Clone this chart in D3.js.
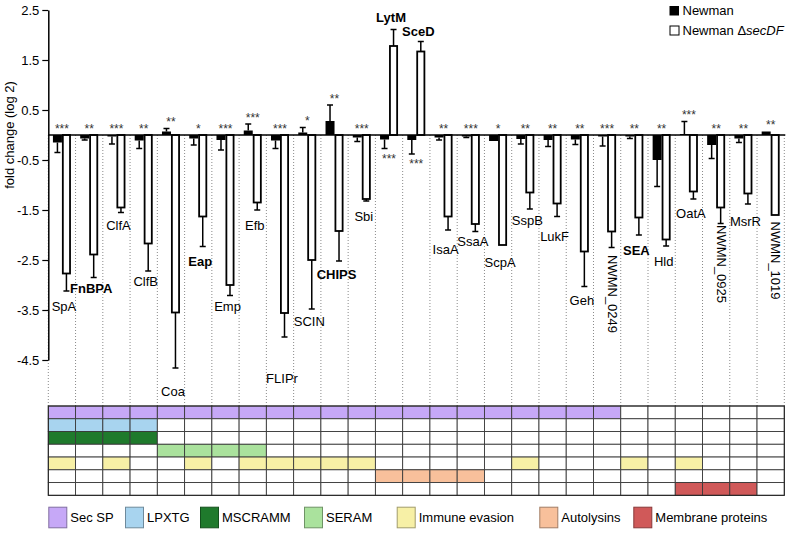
<!DOCTYPE html>
<html><head><meta charset="utf-8">
<script src="https://cdn.jsdelivr.net/npm/d3@7"></script>
<style>
body{margin:0;background:#fff}
svg{display:block}
text{font-family:"Liberation Sans",Arial,Helvetica,sans-serif;fill:#000}
</style>
</head><body>
<svg id="chart" width="791" height="533"></svg>
<script>
// ---------------- data ----------------
const genes = ["SpA","FnBPA","ClfA","ClfB","Coa","Eap","Emp","Efb","FLIPr","SCIN","CHIPS","Sbi","LytM","SceD","IsaA","SsaA","ScpA","SspB","LukF","Geh","NWMN_0249","SEA","Hld","OatA","NWMN_0925","MsrR","NWMN_1019"];
const boldGenes = ["FnBPA","Eap","CHIPS","LytM","SceD","SEA"];
const rotatedGenes = ["NWMN_0249","NWMN_0925","NWMN_1019"];
const newman    = [-0.15,-0.07,-0.03,-0.11,0.07,-0.07,-0.10,0.09,-0.11,0.05,0.28,-0.05,-0.09,-0.10,-0.05,-0.03,-0.12,-0.08,-0.10,-0.09,-0.03,-0.03,-0.50,0.02,-0.20,-0.07,0.07];
const newmanErr = [0.20,0.03,0.15,0.16,0.06,0.13,0.20,0.13,0.16,0.10,0.32,0.08,0.18,0.28,0.05,0.02,0.00,0.10,0.13,0.10,0.19,0.04,0.53,0.25,0.27,0.08,0.00];
const secDF     = [-2.77,-2.39,-1.45,-2.17,-3.55,-1.63,-3.00,-1.35,-3.56,-2.50,-1.92,-1.28,1.78,1.67,-1.63,-1.78,-2.20,-1.15,-1.37,-2.33,-1.93,-1.65,-2.09,-1.13,-1.45,-1.17,-1.60];
const secDFErr  = [0.35,0.46,0.10,0.55,1.11,0.60,0.21,0.15,0.48,0.98,0.60,0.04,0.33,0.20,0.27,0.15,0.00,0.33,0.26,0.70,0.32,0.35,0.13,0.15,0.32,0.21,0.00];
const stars     = ["***","**","***","**","**","*","***","***","***","*","**","***","***","***","**","***","*","**","**","**","***","**","**","***","**","**","**"];
// gene label anchor, in fold-change units
const labelAt   = [-3.43,-3.07,-1.80,-2.93,-5.12,-2.53,-3.42,-1.80,-4.86,-3.73,-2.79,-1.63,2.35,2.07,-2.28,-2.12,-2.55,-1.71,-2.03,-3.30,-2.40,-2.30,-2.52,-1.57,-1.80,-1.73,-1.73];
const yTicks = [2.5,1.5,0.5,-0.5,-1.5,-2.5,-3.5,-4.5];
const seriesNames = ["Newman","Newman \u0394","secDF"];
const categories = ["Sec SP","LPXTG","MSCRAMM","SERAM","Immune evasion","Autolysins","Membrane proteins"];
const categoryColors = ["#c6a8f7","#a8d4ef","#1f7a2c","#aae29d","#f7f0a6","#f8c09b","#d05959"];
const categoryMembers = [
  [0,1,2,3,4,5,6,7,8,9,10,11,12,13,14,15,16,17,18,19,20],
  [0,1,2,3],
  [0,1,2,3],
  [4,5,6,7],
  [0,2,5,7,8,9,10,11,17,21,23],
  [12,13,14,15],
  [23,24,25]
];

// ---------------- layout ----------------
const svg = d3.select("#chart");
const left = 48.3, right = 784.3;
const x0 = d3.scaleBand().domain(genes).range([left, right]).padding(0);
const bw = x0.bandwidth();
const x1 = d3.scaleBand().domain(["newman","secDF"]).range([bw/2 - 9, bw/2 + 9]).padding(0);
const y = d3.scaleLinear().domain([-4.5, 2.5]).range([360, 10]);
const gridTop = 406, rowH = 12.76;

// dotted separators
const bounds = genes.map(g => x0(g)).concat([x0(genes[genes.length-1]) + bw]);
svg.append("g").selectAll("line").data(bounds).join("line")
  .attr("x1", d => d).attr("x2", d => d)
  .attr("y1", y(0)).attr("y2", gridTop)
  .attr("stroke", "#8a8a8a").attr("stroke-width", 1)
  .attr("stroke-dasharray", "1,2");

const rows = genes.map((g,i) => ({g, i, a: newman[i], ae: newmanErr[i], b: secDF[i], be: secDFErr[i], s: stars[i], l: labelAt[i]}));

const bars = svg.append("g");
// Newman (black)
bars.selectAll("rect.n").data(rows).join("rect").attr("class","n")
  .attr("x", d => x0(d.g) + x1("newman"))
  .attr("width", x1.bandwidth())
  .attr("y", d => y(Math.max(0, d.a)))
  .attr("height", d => Math.abs(y(d.a) - y(0)))
  .attr("fill", "#000");
// secDF (white)
bars.selectAll("rect.s").data(rows).join("rect").attr("class","s")
  .attr("x", d => x0(d.g) + x1("secDF") + 0.9)
  .attr("width", x1.bandwidth() - 1.8)
  .attr("y", d => y(Math.max(0, d.b)))
  .attr("height", d => Math.abs(y(d.b) - y(0)))
  .attr("fill", "#fff").attr("stroke", "#000").attr("stroke-width", 1.8);

// error bars
function errData(){
  const out = [];
  rows.forEach(d => {
    if (d.ae > 0) out.push({cx: x0(d.g) + x1("newman") + x1.bandwidth()/2, v: d.a, e: d.a + Math.sign(d.a || -1) * d.ae});
    if (d.be > 0) out.push({cx: x0(d.g) + x1("secDF") + x1.bandwidth()/2, v: d.b, e: d.b + Math.sign(d.b) * d.be});
  });
  return out;
}
const eg = svg.append("g").attr("stroke", "#000").attr("stroke-width", 1.5);
const ed = errData();
eg.selectAll("line.v").data(ed).join("line").attr("class","v")
  .attr("x1", d => d.cx).attr("x2", d => d.cx)
  .attr("y1", d => y(d.v)).attr("y2", d => y(d.e));
eg.selectAll("line.c").data(ed).join("line").attr("class","c")
  .attr("x1", d => d.cx - 3).attr("x2", d => d.cx + 3)
  .attr("y1", d => y(d.e)).attr("y2", d => y(d.e));

// zero line
svg.append("line").attr("x1", left).attr("x2", right + 1)
  .attr("y1", y(0)).attr("y2", y(0)).attr("stroke", "#000").attr("stroke-width", 1.5);

// y axis
const ax = svg.append("g").attr("transform", `translate(${left},0)`)
  .call(d3.axisLeft(y).tickValues(yTicks).tickFormat(d => d.toFixed(1)).tickSize(6).tickSizeOuter(0).tickPadding(3));
ax.select(".domain").attr("stroke-width", 1.5);
ax.selectAll(".tick line").attr("stroke-width", 1.2);
ax.selectAll("text").style("font-size", "13px").style("font-family", '"Liberation Sans",Arial,sans-serif');

svg.append("text").attr("transform", `translate(14,${y(0)}) rotate(-90)`)
  .attr("text-anchor", "middle").style("font-size", "13px").text("fold change (log 2)");

// significance stars
svg.append("g").selectAll("text").data(rows).join("text")
  .attr("x", d => x0(d.g) + bw/2)
  .attr("y", d => {
    if (d.b > 0) return y(d.a - d.ae) + 8 + 6;
    const top = Math.max(0, d.a > 0 ? d.a + d.ae : 0);
    return y(top) - 8.5 + 6;
  })
  .attr("text-anchor", "middle").style("font-size", "12px").style("fill", "#333")
  .text(d => d.s);

// gene labels
svg.append("g").selectAll("text").data(rows).join("text")
  .attr("transform", d => rotatedGenes.includes(d.g)
      ? `translate(${x0(d.g) + bw/2 + 5},${y(d.l)}) rotate(90)`
      : `translate(${x0(d.g) + bw/2 + 2},${y(d.l)})`)
  .attr("dy", "0.35em")
  .attr("text-anchor", d => rotatedGenes.includes(d.g) ? "start" : "middle")
  .style("font-size", "13px")
  .style("font-weight", d => boldGenes.includes(d.g) ? "bold" : "normal")
  .text(d => d.g);

// category grid
const grid = svg.append("g");
categories.forEach((c, r) => {
  grid.selectAll(`rect.r${r}`).data(genes).join("rect").attr("class", `r${r}`)
    .attr("x", g => x0(g)).attr("width", bw)
    .attr("y", gridTop + r * rowH).attr("height", rowH)
    .attr("fill", (g, i) => categoryMembers[r].includes(i) ? categoryColors[r] : "#fff")
    .attr("stroke", "#3a3a3a").attr("stroke-width", 0.9);
});
grid.append("rect").attr("x", left).attr("y", gridTop)
  .attr("width", right - left).attr("height", rowH * categories.length)
  .attr("fill", "none").attr("stroke", "#222").attr("stroke-width", 1);

// bottom legend
const legendX = [48.3,125,200,304,396.7,539.3,633.3];
const lg = svg.append("g");
categories.forEach((c, i) => {
  lg.append("rect").attr("x", legendX[i] + 0.5).attr("y", 507.2)
    .attr("width", 18).attr("height", 20.6)
    .attr("fill", categoryColors[i]).attr("stroke", d3.color(categoryColors[i]).darker(1.2)).attr("stroke-width", 1);
  lg.append("text").attr("x", legendX[i] + 22).attr("y", 517.5).attr("dy", "0.35em")
    .style("font-size", "13px").text(c);
});

// series legend
const sl = svg.append("g");
sl.append("rect").attr("x", 669.5).attr("y", 6).attr("width", 9.5).attr("height", 9.5).attr("fill", "#000");
sl.append("rect").attr("x", 670).attr("y", 26).attr("width", 9).attr("height", 9)
  .attr("fill", "#fff").attr("stroke", "#000").attr("stroke-width", 1);
sl.append("text").attr("x", 682.5).attr("y", 10.8).attr("dy", "0.35em").style("font-size", "13px").text(seriesNames[0]);
const t2 = sl.append("text").attr("x", 682.5).attr("y", 30.8).attr("dy", "0.35em").style("font-size", "13px");
t2.append("tspan").text(seriesNames[1]);
t2.append("tspan").style("font-style", "italic").text(seriesNames[2]);
</script>
</body></html>
